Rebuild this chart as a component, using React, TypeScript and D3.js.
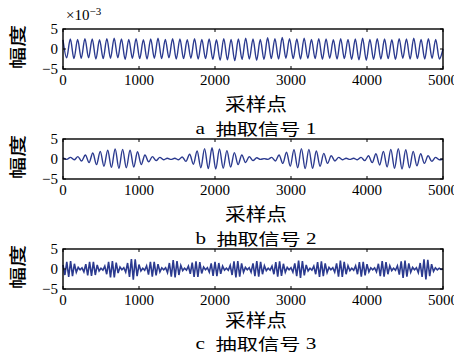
import React from "react";
import * as d3 from "d3";

// sample axis and amplitude axis (amplitudes in units of 1e-3)
const xTicks = [0, 1000, 2000, 3000, 4000, 5000];
const yTicks = [-5, 0, 5];
const sampleMax = 5000;

// signal 1: half-cycle extremes
const signal1 = [
  2.3, -2.2, 2.5, -2.4, 2.4, -2.3, 2.6, -2.2, 2.5, -2.5,
  2.3, -2.4, 2.6, -2.3, 2.7, -2.2, 2.5, -2.6, 2.4, -2.3,
  2.6, -2.4, 2.3, -2.5, 2.5, -2.3, 2.7, -2.4, 2.4, -2.2,
  2.6, -2.5, 2.5, -2.4, 2.3, -2.3, 2.6, -2.5, 2.4, -2.4,
  2.5, -2.6, 2.3, -2.8, 2.6, -2.7, 2.4, -2.9, 2.5, -2.6,
  2.7, -2.5, 2.5, -2.8, 2.4, -2.6, 2.8, -2.4, 2.6, -2.5,
  2.9, -2.3, 2.6, -2.4, 2.5, -2.5, 2.7, -2.3, 2.4, -2.4,
  2.6, -2.6, 2.5, -2.3, 2.3, -2.5, 2.6, -2.4, 2.4, -2.6,
  2.5, -2.7, 2.7, -2.8, 2.4, -2.6, 2.6, -2.5, 2.5, -2.4,
  2.3, -2.6, 2.6, -2.3, 2.5, -2.5, 2.7, -2.4, 2.4, -2.5,
  2.6, -2.3, 2.4, -2.5, 0.0,
];

// signal 2: half-cycle extremes, four bursts
const signal2 = [
  0.3, -0.1, 0.4, -0.2,
  0.6, -0.5, 1.0, -0.9, 1.5, -1.4, 1.9, -1.8, 2.2, -2.1, 2.5, -2.3, 2.4, -2.2, 2.2, -2.0, 1.8, -1.4,
  1.0, -0.7, 0.6, -0.4, 0.4, -0.2, 0.2, -0.1,
  0.2, -0.2, 0.5, -0.6, 1.2, -1.3, 2.0, -2.2, 2.6, -2.4, 2.8, -2.5, 2.5, -2.3, 2.1, -2.0, 1.6, -1.4, 1.0, -0.9, 0.6, -0.4, 0.3,
  -0.1, 0.1, -0.1,
  0.4, -0.5, 1.0, -1.1, 1.7, -1.8, 2.3, -2.2, 2.6, -2.4, 2.4, -2.3, 2.0, -1.8, 1.4, -1.1, 0.8, -0.5, 0.4,
  -0.2, 0.2, -0.1, 0.2, -0.2,
  0.4, -0.4, 0.8, -0.9, 1.3, -1.5, 1.9, -2.0, 2.4, -2.3, 2.6, -2.5, 2.3, -2.2, 1.9, -1.7, 1.3, -1.1, 0.8, -0.6, 0.4,
  -0.2, 0.0,
];

// signal 3: half-cycle extremes, short bursts
const signal3 = [
  1.0, -1.5, 1.8, -2.0, 2.0, -1.8, 1.3, -0.8, 0.4, -0.2, 0.3,
  -0.7, 1.2, -1.6, 1.8, -1.7, 1.8, -1.5, 1.0, -0.5, 0.2, -0.3,
  0.7, -1.3, 1.8, -2.1, 2.0, -2.1, 1.6, -1.0, 0.5, -0.2, 0.3,
  -0.8, 1.5, -2.0, 2.5, -2.7, 2.4, -1.8, 1.1, -0.5, 0.2, -0.3,
  0.8, -1.4, 1.8, -1.9, 1.8, -1.6, 1.2, -0.7, 0.3, -0.2, 0.3,
  -0.9, 1.5, -1.9, 2.2, -2.1, 2.0, -1.5, 0.9, -0.4, 0.2, -0.3,
  0.7, -1.2, 1.6, -2.0, 1.9, -2.0, 1.7, -1.1, 0.5, -0.2, 0.3,
  -0.8, 1.4, -1.7, 1.8, -1.8, 1.5, -1.2, 0.7, -0.3, 0.2, -0.3,
  0.9, -1.5, 1.9, -2.1, 2.0, -1.9, 1.4, -0.8, 0.4, -0.2, 0.3,
  -0.8, 1.4, -1.8, 2.0, -1.9, 1.8, -1.3, 0.8, -0.4, 0.2, -0.3,
  0.7, -1.3, 1.7, -1.9, 1.9, -1.7, 1.3, -0.8, 0.4, -0.2, 0.3,
  -0.8, 1.4, -1.8, 2.1, -2.2, 2.0, -1.6, 1.0, -0.5, 0.2, -0.3,
  0.7, -1.3, 1.7, -2.0, 1.9, -1.8, 1.4, -0.9, 0.4, -0.2, 0.3,
  -0.8, 1.4, -1.9, 2.1, -2.0, 1.8, -1.3, 0.8, -0.4, 0.2, -0.3,
  0.8, -1.3, 1.7, -1.9, 1.8, -1.6, 1.2, -0.7, 0.3, -0.2, 0.3,
  -0.7, 1.3, -1.8, 2.0, -1.9, 1.7, -1.3, 0.8, -0.4, 0.2, -0.3,
  0.8, -1.4, 1.9, -2.2, 2.1, -1.9, 1.4, -0.8, 0.4, -0.2, 0.3,
  -0.9, 1.5, -2.0, 2.4, -2.6, 2.3, -1.8, 1.2, -0.6, 0.3, -0.2,
  0.2, -0.1, 0.0,
];

const letters = ["a", "b", "c"];
const numbers = ["1", "2", "3"];
const yLabel = "幅度";
const xLabel = "采样点";
const title = "抽取信号";

const W = 454;
const H = 354;
const left = 63;
const right = 443;
const plotH = 40;
const tops = [29, 139, 249];
const xLabelGap = [34, 34, 30];
const capGap = [59, 59, 54];
const lineWidths = [1.4, 1.4, 1.6];
const blue = "#2b3a8f";
const serif = "'Liberation Serif', 'Times New Roman', serif";
const cjk = "'Noto Sans CJK SC', sans-serif";

const panelData = [signal1, signal2, signal3];
const curves = [d3.curveMonotoneX, d3.curveMonotoneX, d3.curveLinear];

function Panel({ idx }: { idx: number }) {
  const top = tops[idx];
  const bottom = top + plotH;
  const data = panelData[idx];
  const x = d3.scaleLinear().domain([0, sampleMax]).range([left, right]);
  const y = d3.scaleLinear().domain([-5, 5]).range([bottom, top]);
  const step = sampleMax / (data.length - 1);
  const line = d3
    .line<number>()
    .x((_, i) => x(i * step))
    .y((d) => y(d))
    .curve(curves[idx]);
  const midX = (left + right) / 2 + 3;
  const midY = (top + bottom) / 2;

  return (
    <g>
      <path d={line(data) || ""} fill="none" stroke={blue} strokeWidth={lineWidths[idx]} />
      <rect x={left} y={top} width={right - left} height={plotH} fill="none" stroke="#000" strokeWidth={1.4} />
      {xTicks.map((t) => (
        <g key={"x" + t}>
          <line x1={x(t)} x2={x(t)} y1={bottom} y2={bottom - 3} stroke="#000" />
          <line x1={x(t)} x2={x(t)} y1={top} y2={top + 3} stroke="#000" />
          <text x={x(t)} y={bottom + 16} textAnchor="middle" fontFamily={serif} fontSize={15}>
            {t}
          </text>
        </g>
      ))}
      {yTicks.map((t) => (
        <g key={"y" + t}>
          <line x1={left} x2={left + 3} y1={y(t)} y2={y(t)} stroke="#000" />
          <line x1={right} x2={right - 3} y1={y(t)} y2={y(t)} stroke="#000" />
          <text x={58} y={y(t) + 5} textAnchor="end" fontFamily={serif} fontSize={15}>
            {t < 0 ? "\u2212" + Math.abs(t) : t}
          </text>
        </g>
      ))}
      <text
        transform={`translate(16,${midY - 2}) rotate(-90)`}
        textAnchor="middle"
        dominantBaseline="central"
        fontFamily={cjk}
        fontSize={17}
        fontWeight={500}
        textLength={44}
        lengthAdjust="spacingAndGlyphs"
      >
        {yLabel}
      </text>
      <text
        x={midX}
        y={bottom + xLabelGap[idx]}
        textAnchor="middle"
        dominantBaseline="central"
        fontFamily={cjk}
        fontSize={18}
        textLength={62}
        lengthAdjust="spacingAndGlyphs"
      >
        {xLabel}
      </text>
      <text
        x={midX}
        y={bottom + capGap[idx]}
        textAnchor="middle"
        dominantBaseline="central"
        fontSize={16}
        textLength={121}
        lengthAdjust="spacingAndGlyphs"
      >
        <tspan fontFamily={serif}>{letters[idx] + "\u00a0\u00a0"}</tspan>
        <tspan fontFamily={cjk}>{title}</tspan>
        <tspan fontFamily={serif}>{"\u00a0" + numbers[idx]}</tspan>
      </text>
      {idx === 0 && (
        <text x={66} y={20} fontFamily={serif} fontSize={15}>
          ×10
          <tspan dy={-5} fontSize={11}>
            {"\u22123"}
          </tspan>
        </text>
      )}
    </g>
  );
}

export default function App() {
  return (
    <svg
      width={W}
      height={H}
      style={{ position: "absolute", left: 0, top: 0, background: "#fff" }}
    >
      {[0, 1, 2].map((i) => (
        <Panel key={i} idx={i} />
      ))}
    </svg>
  );
}
